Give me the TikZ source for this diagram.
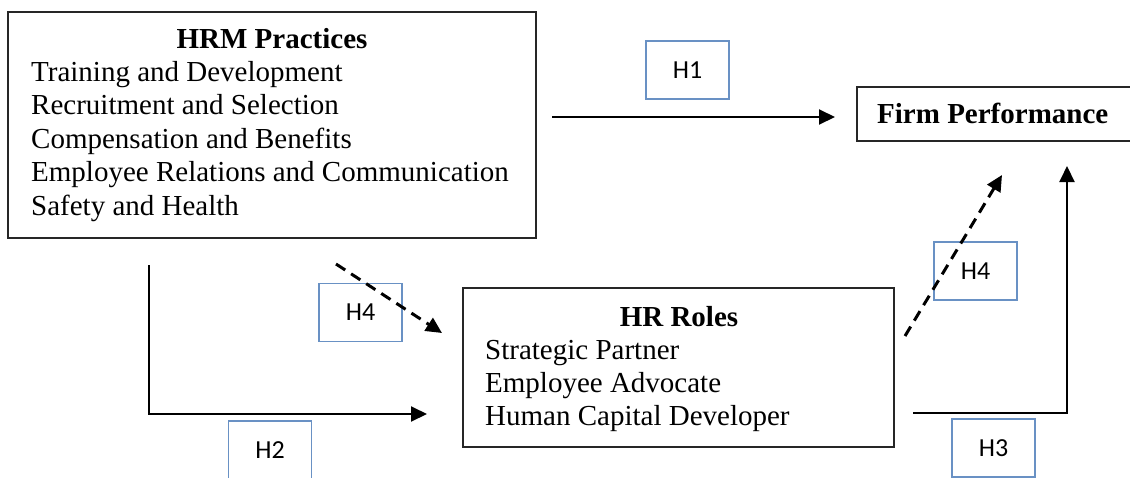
\documentclass[tikz,border=0pt]{standalone}
\usepackage{fontspec}
\setmainfont{Liberation Serif}
\newfontfamily\hfont{Carlito}
\usetikzlibrary{arrows.meta}

\definecolor{hblue}{RGB}{105,145,196}

\tikzset{
  bigbox/.style={draw=black!85,line width=1.6pt,inner sep=0pt},
  hbox/.style={draw=hblue,line width=1.5pt,minimum width=83pt,minimum height=58pt,inner sep=0pt,font=\hfont\fontsize{26}{26}\selectfont},
  link/.style={line width=2pt,-{Triangle[length=16pt,width=15pt]}},
  dlink/.style={line width=3pt,dash pattern=on 11pt off 7pt,-{Triangle[length=16pt,width=15pt]}},
  item/.style={anchor=base west,inner sep=0pt,font=\fontsize{29}{33}\selectfont},
  head/.style={anchor=base,inner sep=0pt,font=\bfseries\fontsize{29}{33}\selectfont},
}

\begin{document}
\begin{tikzpicture}[x=1pt,y=-1pt]
\useasboundingbox[fill=white] (0,0) rectangle (1130,477);

\node[bigbox,minimum width=528pt,minimum height=226pt] (hrm) at (272,125) {};
\node[head] (hrmtitle) at (272,48) {HRM Practices};
\foreach \txt [count=\i] in {Training and Development,Recruitment and Selection,Compensation and Benefits,Employee Relations and Communication,Safety and Health}
  \node[item] (hrm\i) at (31,{48+33.4*\i}) {\txt};

\node[bigbox,minimum width=300pt,minimum height=54pt,anchor=north west] (fp) at (856,86) {};
\node[head,anchor=base west] (fptitle) at (877,123) {Firm Performance};

\node[bigbox,minimum width=431pt,minimum height=159pt] (roles) at (678.5,367.5) {};
\node[head] (rolestitle) at (679,326) {HR Roles};
\foreach \txt [count=\i] in {Strategic Partner,Employee Advocate,Human Capital Developer}
  \node[item] (roles\i) at (485,{326+33*\i}) {\txt};

\node[hbox] (h1) at (687.5,70) {H1};
\node[hbox] (h2) at (270,450) {H2};
\node[hbox] (h3) at (993.5,448) {H3};
\node[hbox] (h4a) at (360.5,312.5) {H4};
\node[hbox] (h4b) at (975.5,271) {H4};

\coordinate (h1s) at (552,117);
\coordinate (h1e) at (835,117);
\coordinate (h2s) at (149,265);
\coordinate (h2e) at (427,414);
\coordinate (h3s) at (913,413);
\coordinate (h3e) at (1067,166);
\coordinate (h4as) at (336,264);
\coordinate (h4ae) at (442,333);
\coordinate (h4bs) at (905,336);
\coordinate (h4be) at (1002,175);

\draw[link] (h1s) -- (h1e);
\draw[link] (h2s) |- (h2e);
\draw[link] (h3s) -| (h3e);
\draw[dlink] (h4as) -- (h4ae);
\draw[dlink] (h4bs) -- (h4be);
\end{tikzpicture}
\end{document}
